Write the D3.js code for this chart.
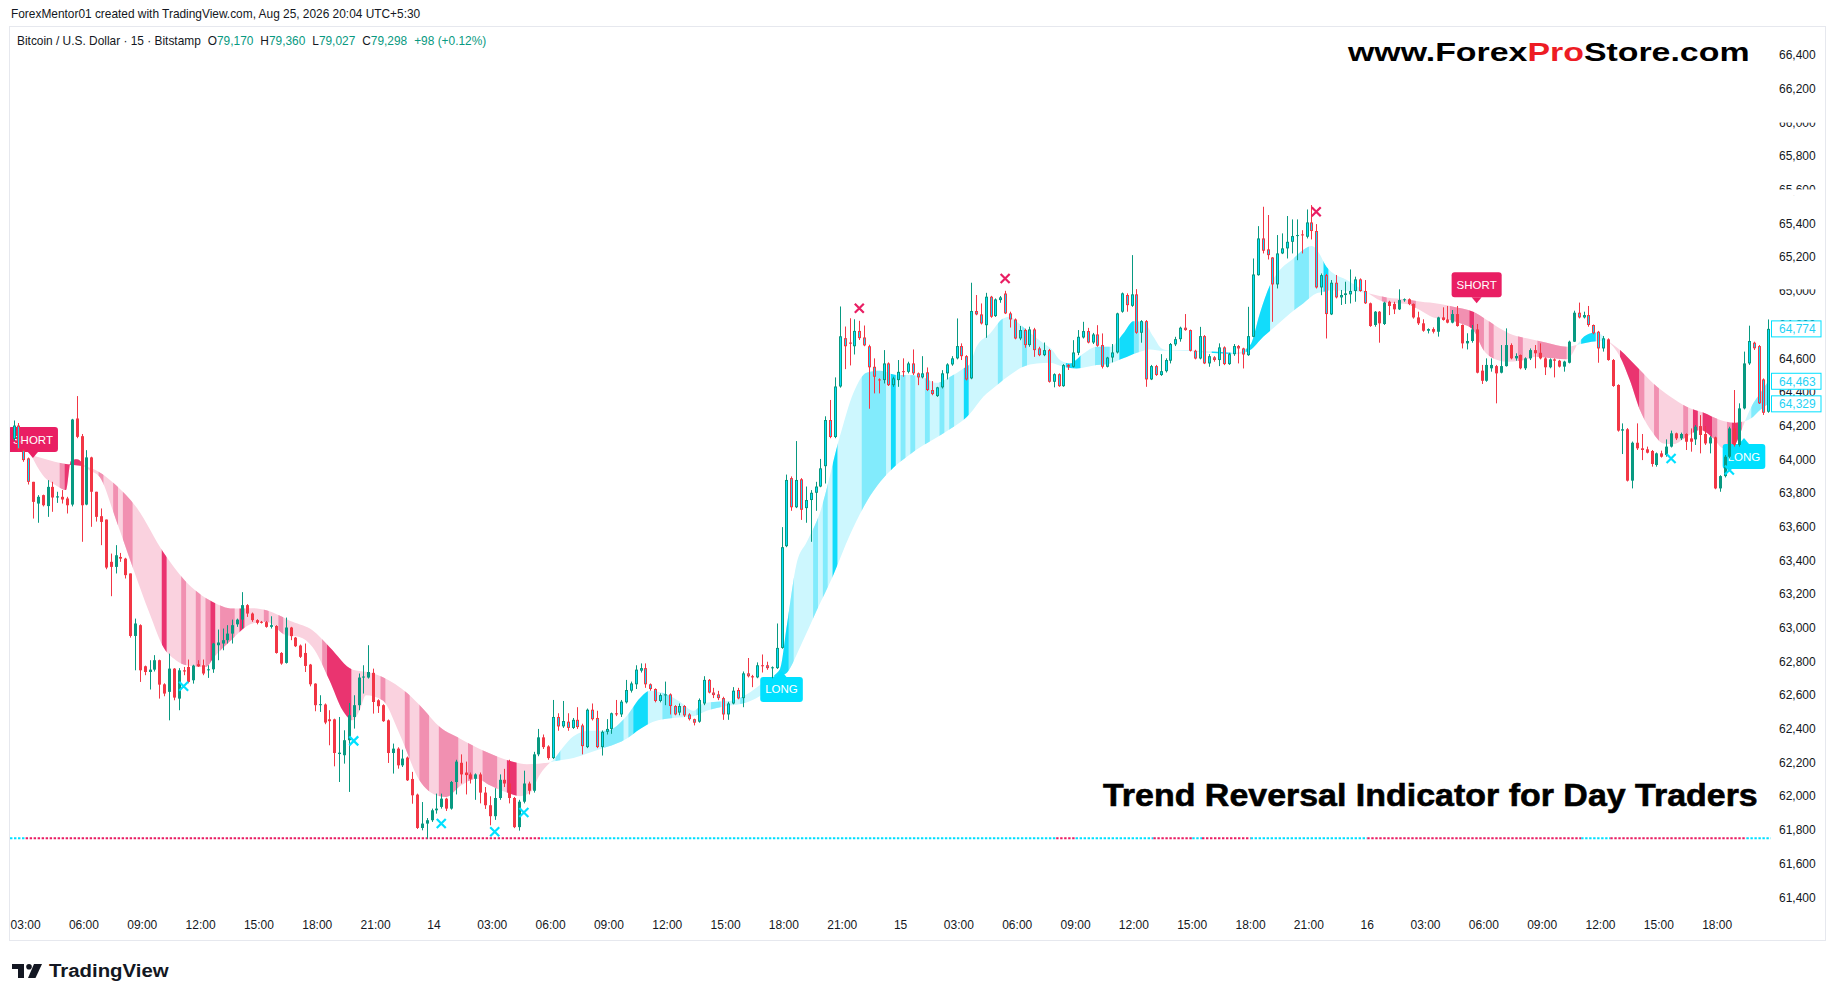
<!DOCTYPE html>
<meta charset="utf-8">
<style>
body { margin: 0; background: #fff; }
svg { display: block; }
text { font-family: "Liberation Sans", Arial, sans-serif; }
</style>
<body>
<script src="https://cdn.jsdelivr.net/npm/d3@7"></script>
<script>

// ---- candles, BTCUSD 15m, bar 0 = 13th 02:15 ----
var opens = [
64120,64200,64054,64005,63866,63737,63787,63722,63836,63773,
63777,63767,63731,64242,64137,63731,64011,63807,63662,63642,
63391,63361,63420,63410,63322,62951,63015,62771,62737,62751,
62807,62664,62619,62757,62579,62747,62767,62688,62783,62777,
62747,62753,62896,62906,62926,62965,63020,63048,63134,63084,
63045,63035,63033,63005,63010,62850,62791,63001,62941,62894,
62850,62781,62668,62540,62544,62456,62456,62250,62243,62332,
62470,62540,62704,62704,62732,62569,62540,62450,62256,62282,
62183,62229,62102,62009,61811,61837,61857,61916,61936,61985,
61926,62084,62198,62140,62129,62103,62129,62021,61946,61881,
61989,62097,62075,61989,61816,61967,62075,62032,62248,62349,
62295,62226,62470,62414,62442,62405,62453,62420,62291,62513,
62464,62291,62382,62399,62492,62485,62557,62626,62664,62745,
62760,62664,62636,62565,62600,62604,62535,62496,62535,62485,
62457,62442,62550,62690,62615,62604,62582,62485,62550,62630,
62582,62729,62712,62705,62777,62777,62760,62760,62880,63484,
63888,63715,63881,63710,63758,63801,63838,63959,64233,64132,
64432,64719,64693,64671,64762,64723,64671,64549,64474,64470,
64569,64440,64470,64523,64519,64569,64510,64486,64516,64411,
64375,64427,64510,64563,64599,64672,64612,64480,64880,64860,
64796,64965,64850,64945,64984,64866,64830,64717,64767,64678,
64771,64658,64618,64648,64460,64505,64434,64559,64549,64632,
64723,64761,64693,64741,64678,64549,64604,64634,64876,64975,
64911,64979,64751,64820,64474,64553,64500,64523,64585,64682,
64713,64781,64767,64644,64598,64731,64569,64605,64589,64664,
64565,64624,64672,64658,64618,64727,65093,65311,65246,65198,
65038,65222,65252,65291,65325,65335,65321,65406,65355,65020,
65093,64860,65048,64961,64975,64979,64999,65068,64999,64926,
64797,64876,64803,64935,64922,64890,64945,64950,64922,64842,
64807,64763,64773,64757,64842,64830,64811,64862,64797,64688,
64702,64771,64526,64466,64540,64553,64514,64553,64678,64599,
64619,64540,64599,64648,64632,64599,64546,64593,64585,64550,
64573,64698,64870,64842,64856,64797,64757,64658,64712,64589,
64441,64170,64178,63873,64098,64065,64059,64049,63966,64035,
64025,64075,64154,64124,64150,64124,64118,64197,64150,64094,
64130,63827,63900,64015,64183,64085,64302,64569,64692,64672,
64474,64282];

var highs = [
64230,64215,64060,64010,63866,63787,63790,63876,63866,63807,
63817,63777,64240,64375,64150,64054,64015,63807,63708,63642,
63440,63490,63444,63415,63322,63054,63020,62775,62807,62837,
62810,62670,62846,62760,62760,62767,62811,62780,62807,62811,
62777,62910,62989,62995,63015,63048,63054,63211,63140,63090,
63050,63040,63040,63068,63015,62855,63060,63005,62945,62900,
62906,62785,62670,62599,62550,62510,62460,62470,62391,62553,
62599,62728,62777,62896,62757,62575,62545,62455,62312,62290,
62276,62235,62144,62015,61965,61870,61926,62015,62015,61990,
62090,62216,62248,62205,62140,62135,62140,62054,61999,62047,
62129,62162,62216,61995,61978,62151,62086,62263,62399,62366,
62302,62571,62492,62565,62492,62464,62528,62430,62520,62550,
62507,62390,62457,62496,62571,62571,62690,62680,62777,62788,
62788,62669,62640,62610,62680,62610,62540,62550,62540,62492,
62460,62580,62712,62695,62643,62625,62590,62560,62647,62643,
62740,62820,62720,62794,62841,62798,62770,63025,63597,63909,
63898,64108,63888,63838,63817,63866,64002,64255,64352,64486,
64907,64788,64837,64831,64822,64794,64680,64599,64480,64648,
64575,64490,64589,64599,64579,64652,64515,64612,64545,64464,
64430,64529,64570,64612,64836,64688,64618,65048,64975,64925,
64988,64970,64955,64969,65000,64876,64836,64791,64775,64787,
64780,64668,64693,64655,64510,64510,64565,64565,64707,64767,
64816,64780,64750,64796,64747,64608,64684,64870,64990,64985,
65212,65010,64826,64826,64560,64560,64624,64599,64690,64727,
64787,64862,64770,64650,64786,64737,64624,64612,64688,64670,
64632,64684,64678,64662,64905,65192,65384,65499,65450,65200,
65331,65341,65444,65424,65424,65360,65483,65509,65396,65103,
65100,65064,65094,65005,65054,65127,65084,65074,65064,64930,
64880,64880,64935,64941,64935,65009,64955,64955,64925,64876,
64831,64777,64783,64846,64902,64910,64886,64910,64800,64748,
64797,64803,64560,64599,64599,64560,64678,64777,64688,64629,
64622,64605,64658,64678,64688,64605,64599,64599,64590,64585,
64704,64882,64930,64876,64910,64800,64762,64732,64718,64595,
64445,64213,64185,64105,64213,64150,64075,64055,64040,64051,
64118,64170,64158,64158,64154,64183,64203,64262,64197,64138,
64134,63905,64025,64193,64411,64332,64639,64793,64698,64678,
64480,64830];

var lows = [
64110,64050,63985,63850,63648,63623,63720,63658,63688,63741,
63737,63678,63720,64125,63510,63727,63599,63630,63490,63347,
63187,63322,63391,63292,62941,62747,62678,62718,62633,62740,
62579,62593,62450,62569,62510,62718,62670,62668,62767,62718,
62702,62732,62807,62866,62906,62906,63005,62995,63064,63035,
63020,63025,63000,62995,62846,62780,62787,62926,62885,62820,
62737,62652,62504,62500,62427,62302,62177,62084,62193,62025,
62401,62510,62609,62698,62490,62494,62441,62197,62134,62163,
62173,62090,61955,61805,61797,61748,61847,61896,61926,61912,
61920,62010,62075,62010,62075,61978,61957,61924,61827,61859,
61978,62054,61957,61810,61795,61957,62010,62021,62237,62280,
62216,62220,62388,62405,62388,62399,62399,62248,62285,62449,
62285,62241,62366,62370,62475,62470,62550,62615,62636,62734,
62643,62626,62557,62557,62540,62485,62480,62480,62470,62449,
62420,62436,62540,62610,62582,62570,62453,62453,62545,62575,
62528,62705,62647,62700,62734,62750,62700,62755,62875,63478,
63694,63710,63640,63623,63510,63694,63834,63856,64125,64125,
64425,64535,64557,64622,64708,64671,64300,64391,64391,64450,
64435,64430,64430,64490,64510,64500,64440,64480,64405,64380,
64370,64420,64474,64555,64593,64589,64468,64475,64855,64800,
64721,64840,64845,64929,64862,64782,64712,64707,64662,64668,
64608,64612,64612,64455,64427,64430,64430,64530,64545,64618,
64717,64688,64684,64668,64539,64545,64575,64628,64870,64876,
64905,64745,64692,64430,64470,64495,64495,64515,64569,64672,
64698,64763,64640,64593,64593,64565,64549,64579,64553,64559,
64560,64614,64569,64539,64614,64725,65090,65222,65186,64816,
65014,65218,65192,65222,65182,65222,65311,65305,65014,64974,
64717,64856,64955,64916,64922,64925,64935,64995,64922,64786,
64787,64692,64797,64856,64862,64886,64935,64915,64835,64797,
64757,64747,64747,64728,64823,64807,64807,64787,64658,64652,
64692,64510,64447,64460,64520,64332,64510,64550,64593,64585,
64534,64530,64589,64540,64593,64500,64540,64486,64545,64520,
64569,64696,64836,64836,64787,64742,64573,64639,64585,64430,
64164,64031,63868,63827,64055,63995,64035,63956,63956,64010,
64015,64070,64114,64114,64055,64045,64085,64035,64085,64035,
63822,63807,63892,64005,64075,64075,64296,64560,64649,64328,
64263,64276];

var closes = [
64200,64060,63995,63866,63747,63777,63727,63836,63773,63780,
63761,63727,64236,64133,63727,64011,63807,63658,63628,63357,
63361,63430,63410,63312,62951,63025,62747,62737,62751,62807,
62662,62609,62757,62585,62747,62740,62678,62775,62771,62728,
62753,62906,62912,62926,62965,63015,63048,63134,63084,63045,
63029,63030,63005,63015,62850,62787,63001,62950,62890,62827,
62773,62664,62540,62546,62437,62445,62256,62258,62332,62480,
62540,62704,62710,62737,62559,62534,62445,62256,62282,62183,
62223,62094,62005,61811,61837,61857,61916,61926,61985,61926,
62084,62205,62129,62125,62103,62129,62021,61946,61881,61989,
62097,62075,61989,61816,61967,62075,62032,62248,62349,62291,
62226,62470,62414,62446,62405,62453,62410,62297,62513,62457,
62291,62382,62399,62492,62485,62561,62630,62669,62751,62760,
62664,62636,62565,62600,62604,62535,62485,62535,62479,62457,
62436,62571,62690,62615,62600,62582,62485,62550,62626,62580,
62729,62712,62705,62777,62773,62760,62765,62880,63478,63877,
63715,63877,63700,63758,63801,63838,63946,64233,64132,64432,
64730,64671,64686,64762,64719,64676,64546,64490,64470,64569,
64440,64480,64519,64518,64569,64510,64486,64510,64411,64387,
64427,64510,64563,64599,64672,64612,64474,64880,64860,64806,
64965,64846,64949,64961,64866,64830,64717,64767,64678,64771,
64648,64618,64648,64460,64505,64434,64559,64550,64634,64727,
64761,64693,64741,64674,64549,64604,64634,64866,64985,64915,
64979,64751,64820,64474,64553,64500,64523,64589,64684,64713,
64781,64767,64644,64598,64731,64569,64612,64589,64664,64565,
64624,64672,64658,64622,64731,65097,65311,65238,65212,65038,
65222,65252,65291,65325,65331,65330,65406,65355,65020,65093,
64862,65048,64961,64975,64985,64999,65068,64999,64926,64791,
64876,64807,64930,64910,64890,64945,64950,64922,64842,64807,
64763,64773,64757,64842,64827,64811,64862,64791,64688,64702,
64771,64514,64466,64560,64560,64510,64553,64678,64599,64613,
64540,64599,64648,64629,64599,64546,64593,64585,64550,64580,
64698,64870,64842,64856,64797,64748,64658,64718,64589,64435,
64170,64178,63873,64098,64065,64055,64039,63972,64035,64015,
64075,64154,64124,64150,64104,64104,64193,64144,64094,64130,
63827,63900,64015,64183,64085,64302,64569,64702,64659,64332,
64276,64774];

// ---- indicator ribbon: [bar, price] read along each edge ----
var ribbonTrend = ["bear", "bull", "bear", "bull", "bear", "bull"];
var ribbonFast = [
  [[3.6,64025],[6,63906],[9,63840],[10.8,63817],[11.8,63990],[13,64000],[15.6,63935],[17.7,63896],[21.1,63640],[24.5,63361],[28,63084],[31,62876],[33.4,62807],[35.5,62777],[39.6,62767],[41.3,62827],[45.1,62935],[47.8,63005],[49.2,63025],[52,63035],[56.1,62955],[58.8,62945],[61.5,62886],[65,62688],[67.7,62510],[69.8,62450],[71.2,62510],[72.5,62599],[75.9,62569],[79.4,62371],[83.5,62094],[87,62005],[89,61995],[91.9,62060],[95.3,62103],[98,62064],[101.5,62021],[104.2,62000],[106.3,62021],[108.3,62129],[110.4,62200]],
  [[110.4,62200],[111.05,62215],[113.1,62291],[115.2,62356],[118.6,62388],[122,62388],[126.1,62474],[128.9,62582],[130.9,62625],[134.4,62604],[137.1,62561],[139.9,62507],[141.9,62550],[144.7,62561],[147.4,62565],[150.8,62604],[154.9,62690],[157.7,62755],[159.1,63014],[161.1,63381],[163.2,63510],[165.9,63683],[170,64136],[172.8,64395],[175.5,64514],[178.3,64525],[181.7,64500],[184.4,64500],[187.2,64484],[189.9,64454],[192.7,64490],[195.4,64539],[196.8,64569],[198.1,64668],[200.9,64747],[203.6,64836],[205,64846],[206.4,64816],[209.1,64751],[211.9,64688],[213.6,64652],[215.3,64589],[217.3,64569],[220.1,64628],[222.8,64668],[225.6,64668],[228.3,64747],[230.4,64820],[232.4,64816],[234.5,64727],[236.2,64658],[237.9,64646],[240.7,64648],[243.4,64644],[247.5,64638],[251.6,64632],[254.4,64678],[256.4,64866],[258.5,65034],[260.5,65123],[263.3,65192],[265.3,65242],[267.1,65266],[268.4,65232],[270.1,65143],[271.5,65104],[274.3,65064],[277,65015],[278.7,64985]],
  [[278.7,64985],[282.5,64930],[286.6,64922],[289.3,64886],[292.1,64842],[294.8,64831],[297.6,64807],[300.3,64767],[302.4,64649],[304.4,64599],[307.2,64579],[310,64585],[313.3,64609],[316.8,64599],[319.5,64593],[321.6,64678]],
  [[321.6,64678],[323.6,64738],[325.7,64752],[327.7,64708]],
  [[327.7,64708],[330.5,64609],[332.5,64470],[334.6,64292],[337.3,64154],[339.4,64094],[341.5,64090],[344.2,64134],[347,64174],[349.7,64124],[351.7,64065],[353.8,64075],[355.5,64174],[356.2,64226]],
  [[356.2,64226],[357.9,64332],[359.3,64391],[361,64463]]
];
var ribbonSlow = [
  [[3.6,64025],[10.1,63975],[15.6,63951],[21.1,63846],[25.2,63718],[31,63440],[35.2,63282],[41,63153],[45.1,63114],[49.2,63116],[52,63104],[57.4,63035],[61.5,62985],[65,62886],[69.8,62751],[72.5,62738],[75.9,62708],[81.1,62609],[84.2,62520],[87.7,62410],[91.9,62341],[96.7,62270],[101.5,62215],[105.6,62190],[110.4,62200]],
  [[110.4,62200],[111.05,62205],[115.2,62226],[118.6,62259],[122,62291],[126.1,62341],[128.9,62399],[131.6,62442],[135.7,62464],[139.9,62474],[142.6,62507],[146.7,62535],[150.8,62556],[154.9,62625],[157.7,62712],[159.1,62733],[161.8,62884],[165.2,63100],[168.7,63316],[172.1,63553],[175.5,63748],[178.3,63866],[181,63950],[184,64020],[187,64080],[190,64130],[193,64185],[195.4,64233],[196.8,64272],[199.5,64371],[202.3,64440],[205,64500],[207.7,64549],[210.5,64569],[213.2,64573],[216,64549],[218.7,64539],[222.8,64559],[225.6,64569],[228.3,64599],[231.1,64632],[233.8,64652],[236.5,64644],[240.7,64644],[244.8,64634],[248.9,64628],[251.6,64624],[254.4,64648],[257.1,64727],[259.9,64797],[262.6,64866],[265.3,64925],[268.1,64985],[269.5,64994],[270.8,65004],[274.3,65000],[278.7,64985]],
  [[278.7,64985],[282.5,64961],[286.6,64949],[289.3,64936],[293.5,64922],[296.2,64906],[300.3,64876],[303.1,64827],[305.8,64777],[308.5,64738],[311.3,64718],[315.4,64692],[319.5,64668],[321.6,64678]],
  [[321.6,64678],[323.6,64692],[325.7,64700],[327.7,64708]],
  [[327.7,64708],[330.5,64648],[333.9,64550],[337.3,64451],[340.8,64372],[344.2,64312],[347.6,64277],[351.1,64233],[353.8,64217],[356.2,64226]],
  [[356.2,64226],[357.9,64253],[359.3,64292],[361,64329]]
];
// stripes inside the ribbon: [firstBar, lastBar, level 1 = mid, 2 = strong]
var stripes = [
  [10,10,1],[11,14,2],[18,18,1],[21,21,1],[23,24,1],[31,31,2],[35,35,1],[38,38,1],[40,40,1],[41,41,2],
  [43,45,1],[47,47,2],[52,52,1],[55,55,1],[64,64,1],[65,69,2],[76,76,1],[81,81,1],[84,85,1],[88,91,1],
  [94,94,1],[97,99,1],[102,103,2],
  [112,112,1],[122,125,1],[127,127,1],[128,130,2],[134,135,1],[141,141,1],[144,145,1],[150,150,1],
  [157,159,2],[160,160,1],[165,165,1],[167,167,1],[169,169,2],[175,179,1],[181,181,2],[183,183,1],
  [185,185,1],[188,188,1],[191,191,1],[193,193,1],[196,196,2],[203,203,1],[208,208,1],[217,219,2],
  [223,225,1],[228,230,2],[231,231,1],[247,250,2],[254,258,2],[264,266,1],[270,270,2],
  [282,282,1],[288,288,1],[296,299,1],[300,300,2],[301,302,1],[304,304,1],[310,310,1],[314,319,1],
  [323,325,2],
  [331,334,2],[335,335,1],[338,338,1],[344,344,1],[346,346,2],[348,349,2],[350,350,1],[353,353,1],[354,355,2],
  [358,361,1]
];

// signal labels
var signalBars = [4, 158, 301, 356];
var signalPrices = [64007, 62743, 64926, 64126];
var signalText = ["SHORT", "LONG", "SHORT", "LONG"];

// small cross markers
var crossBars = [35, 70, 88, 99, 105, 341, 353, 174, 204, 268];
var crossPrices = [62652, 62328, 61837, 61788, 61903, 64005, 63936, 64896, 65073, 65469];
var crossSide = ["bull","bull","bull","bull","bull","bull","bull","bear","bear","bear"];

// dotted base line state by bar range
var baseLinePrice = 61750;
var baseLineSegs = [[0,2,"bull"],[3,108,"bear"],[109,214,"bull"],[215,218,"bear"],[219,234,"bull"],
  [235,242,"bear"],[243,244,"bull"],[245,254,"bear"],[255,278,"bull"],[279,322,"bear"],
  [323,328,"bull"],[329,356,"bear"],[357,361,"bull"]];

// legend values
var legendTitle = "Bitcoin / U.S. Dollar \u00b7 15 \u00b7 Bitstamp";
var legendKeys = ["O", "H", "L", "C", ""];
var legendVals = ["79,170", "79,360", "79,027", "79,298", "+98 (+0.12%)"];

// axes
var priceTicks = d3.range(61400, 66401, 200);
var timeTickBars = [3,15,27,39,51,63,75,87,99,111,123,135,147,159,171,183,195,207,219,231,243,255,267,279,291,303,315,327,339,351];
var timeTickLabels = ["03:00","06:00","09:00","12:00","15:00","18:00","21:00","14","03:00","06:00","09:00","12:00","15:00","18:00","21:00","15","03:00","06:00","09:00","12:00","15:00","18:00","21:00","16","03:00","06:00","09:00","12:00","15:00","18:00"];

// ---- drawing ----
var W = 1835, H = 1000;
var ink = "#131722", upCol = "#089981", dnCol = "#f23645";
var cyan = "#00e0ff", pink = "#e91e63";
var cyanShades = ["#cdf7fe", "#82ebfc", "#12dcfb"];
var pinkShades = ["#fad2df", "#f190b1", "#ea3470"];

var n = closes.length;
var x = d3.scaleLinear().domain([0, 361]).range([13.5, 1768.3]);
var y = d3.scaleLinear().domain([61400, 66400]).range([897.2, 55]);
var dx = x(1) - x(0);

var svg = d3.select("body").append("svg").attr("width", W).attr("height", H);
var defs = svg.append("defs");

function fitWidth(sel, x0, target) {
  var w = sel.node().getBBox().width;
  sel.attr("transform", "translate(" + x0 + ",0) scale(" + (target / w) + ",1) translate(" + (-x0) + ",0)");
}

// header
var head = svg.append("text").attr("x", 11).attr("y", 18).attr("font-size", 12).attr("fill", ink)
  .text("ForexMentor01 created with TradingView.com, Aug 25, 2026 20:04 UTC+5:30");
fitWidth(head, 11, 410);

// panel
svg.append("rect").attr("x", 9.5).attr("y", 26.5).attr("width", 1816).attr("height", 914)
  .attr("fill", "#fff").attr("stroke", "#e6e8ee");

defs.append("clipPath").attr("id", "plotClip").append("rect")
  .attr("x", 10).attr("y", 27).attr("width", 1761).attr("height", 880);
var plot = svg.append("g").attr("clip-path", "url(#plotClip)");

function trendAt(i) {
  for (var s = 0; s < ribbonTrend.length; s++) {
    var a = ribbonFast[s][0][0], b = ribbonFast[s][ribbonFast[s].length - 1][0];
    if (i >= a && i <= b) return ribbonTrend[s];
  }
  return "bull";
}

// ribbon
var edge = d3.line().x(function(d) { return x(d[0]); }).y(function(d) { return y(d[1]); }).curve(d3.curveMonotoneX);
ribbonTrend.forEach(function(t, s) {
  var fast = ribbonFast[s], slow = ribbonSlow[s];
  var d = edge(fast) + edge(slow.slice().reverse()).replace(/^M/, "L") + "Z";
  var id = "rib" + s;
  defs.append("clipPath").attr("id", id).append("path").attr("d", d);
  var pal = t === "bull" ? cyanShades : pinkShades;
  var a = fast[0][0], b = fast[fast.length - 1][0];
  plot.append("path").attr("d", d).attr("fill", pal[0]);
  plot.append("g").attr("clip-path", "url(#" + id + ")")
    .selectAll("rect")
    .data(stripes.filter(function(st) { return st[0] >= a - 0.5 && st[0] <= b; }))
    .join("rect")
      .attr("x", function(st) { return x(st[0]) - dx / 2; })
      .attr("width", function(st) { return (st[1] - st[0] + 1) * dx; })
      .attr("y", 27).attr("height", 880)
      .attr("fill", function(st) { return pal[st[2]]; });
});

// dotted base line
plot.selectAll(".base").data(baseLineSegs).join("line")
  .attr("x1", function(d) { return d[0] === 0 ? 10 : x(d[0]) - dx / 2; })
  .attr("x2", function(d) { return x(d[1]) + dx / 2; })
  .attr("y1", y(baseLinePrice)).attr("y2", y(baseLinePrice))
  .attr("stroke", function(d) { return d[2] === "bull" ? cyan : pink; })
  .attr("stroke-width", 2.2).attr("stroke-dasharray", "2.4,1.6");

// signal labels (under the candles)
signalBars.forEach(function(b, k) {
  var isShort = signalText[k] === "SHORT";
  var px = x(b), py = y(signalPrices[k]);
  var g = plot.append("g");
  var t = g.append("text").attr("font-size", 11.5).attr("fill", "#fff").attr("text-anchor", "middle")
    .attr("x", px).text(signalText[k]);
  var w = t.node().getComputedTextLength() + 10, h = 25, tri = 6;
  var top = isShort ? py - tri - h : py + tri;
  g.insert("rect", "text").attr("x", px - w / 2).attr("y", top).attr("width", w).attr("height", h)
    .attr("rx", 3).attr("fill", isShort ? pink : cyan);
  var base = isShort ? top + h : top;
  g.insert("path", "text").attr("d", "M" + (px - 5) + "," + base + "L" + px + "," + py + "L" + (px + 5) + "," + base + "Z")
    .attr("fill", isShort ? pink : cyan);
  t.attr("y", top + h / 2 + 4);
});

// candles
var idx = d3.range(n);
var cg = plot.append("g");
function col(i) { return closes[i] >= opens[i] ? upCol : dnCol; }
function cx(i) { return Math.round(x(i)); }
function bodyTop(i) { return y(Math.max(opens[i], closes[i])); }
function bodyH(i) { return Math.max(1, y(Math.min(opens[i], closes[i])) - bodyTop(i)); }
cg.selectAll(".wick").data(idx).join("line")
  .attr("x1", function(i) { return cx(i) + 0.5; }).attr("x2", function(i) { return cx(i) + 0.5; })
  .attr("y1", function(i) { return y(highs[i]); }).attr("y2", function(i) { return y(lows[i]); })
  .attr("stroke", col).attr("stroke-width", 1);
cg.selectAll(".body").data(idx).join("rect")
  .attr("x", function(i) { return cx(i) - 1; }).attr("width", 3)
  .attr("y", bodyTop).attr("height", bodyH).attr("fill", col);
cg.selectAll(".core").data(idx.filter(function(i) { return trendAt(i) === "bull" && bodyH(i) > 2; })).join("rect")
  .attr("x", function(i) { return cx(i); }).attr("width", 1)
  .attr("y", function(i) { return bodyTop(i) + 1; }).attr("height", function(i) { return bodyH(i) - 2; })
  .attr("fill", cyan);

// crosses
plot.selectAll(".cross").data(crossBars).join("path")
  .attr("d", "M-4.5,-4.5L4.5,4.5M-4.5,4.5L4.5,-4.5")
  .attr("transform", function(b, k) { return "translate(" + x(b) + "," + y(crossPrices[k]) + ")"; })
  .attr("stroke", function(b, k) { return crossSide[k] === "bull" ? cyan : pink; })
  .attr("stroke-width", 2.2).attr("fill", "none");

// legend
var leg = svg.append("text").attr("x", 17).attr("y", 45).attr("font-size", 12).attr("fill", ink);
leg.append("tspan").text(legendTitle);
legendKeys.forEach(function(k, i) {
  if (k) leg.append("tspan").attr("dx", 7).text(k);
  leg.append("tspan").attr("fill", upCol).attr("dx", k ? 0 : 7).text(legendVals[i]);
});
fitWidth(leg, 17, 470);

// price axis
var ya = svg.append("g").attr("transform", "translate(1779,0)")
  .call(d3.axisRight(y).tickValues(priceTicks).tickSize(0).tickPadding(0).tickFormat(d3.format(",")));
ya.select(".domain").remove();
ya.selectAll("text").attr("font-size", 12).attr("fill", ink).attr("font-family", "Liberation Sans, Arial, sans-serif");

// partially hidden axis labels in the source image
[[66000, -6, 0.3], [65600, -0.3, 6], [65000, -6, -1.5]].forEach(function(c) {
  svg.append("rect").attr("x", 1772).attr("width", 52).attr("y", y(c[0]) + c[1]).attr("height", c[2] - c[1]).attr("fill", "#fff");
});

// last values on the scale
var lastFast = ribbonFast[5][ribbonFast[5].length - 1][1];
var lastSlow = ribbonSlow[5][ribbonSlow[5].length - 1][1];
[closes[n - 1], lastFast, lastSlow].forEach(function(v) {
  svg.append("rect").attr("x", 1771.5).attr("y", y(v) - 8).attr("width", 49.5).attr("height", 16)
    .attr("fill", "#fff").attr("stroke", cyan).attr("stroke-width", 1);
  svg.append("text").attr("x", 1779).attr("y", y(v) + 4.3).attr("font-size", 12).attr("fill", "#1fd2f5")
    .text(d3.format(",")(v));
});

// time axis
var xa = svg.append("g").attr("transform", "translate(-3,917)")
  .call(d3.axisBottom(x).tickValues(timeTickBars).tickSize(0).tickPadding(3)
    .tickFormat(function(d, i) { return timeTickLabels[i]; }));
xa.select(".domain").remove();
xa.selectAll("text").attr("font-size", 12).attr("fill", ink).attr("font-family", "Liberation Sans, Arial, sans-serif");

// watermark texts
var wm = svg.append("text").attr("x", 1348).attr("y", 61).attr("font-size", 26).attr("font-weight", "bold")
  .attr("font-family", "DejaVu Sans, Verdana, sans-serif").attr("fill", "#000");
wm.append("tspan").text("www.Forex");
wm.append("tspan").attr("fill", "#ed1c24").text("Pro");
wm.append("tspan").text("Store.com");
fitWidth(wm, 1348, 403);

var ttl = svg.append("text").attr("x", 1103).attr("y", 806).attr("font-size", 32).attr("font-weight", "bold")
  .attr("fill", "#000").attr("stroke", "#000").attr("stroke-width", 0.6)
  .text("Trend Reversal Indicator for Day Traders");
fitWidth(ttl, 1103, 655);

// TradingView mark
var lg = svg.append("g").attr("fill", "#131722");
lg.append("rect").attr("x", 12).attr("y", 964).attr("width", 12).attr("height", 5);
lg.append("rect").attr("x", 18).attr("y", 964).attr("width", 6).attr("height", 14);
lg.append("circle").attr("cx", 29).attr("cy", 966.8).attr("r", 2.8);
lg.append("path").attr("d", "M34,964L42,964L35.5,978L28,978Z");
var tv = svg.append("text").attr("x", 49).attr("y", 977.5).attr("font-size", 19).attr("font-weight", "bold")
  .attr("fill", "#131722").text("TradingView");
fitWidth(tv, 49, 120);

</script>
